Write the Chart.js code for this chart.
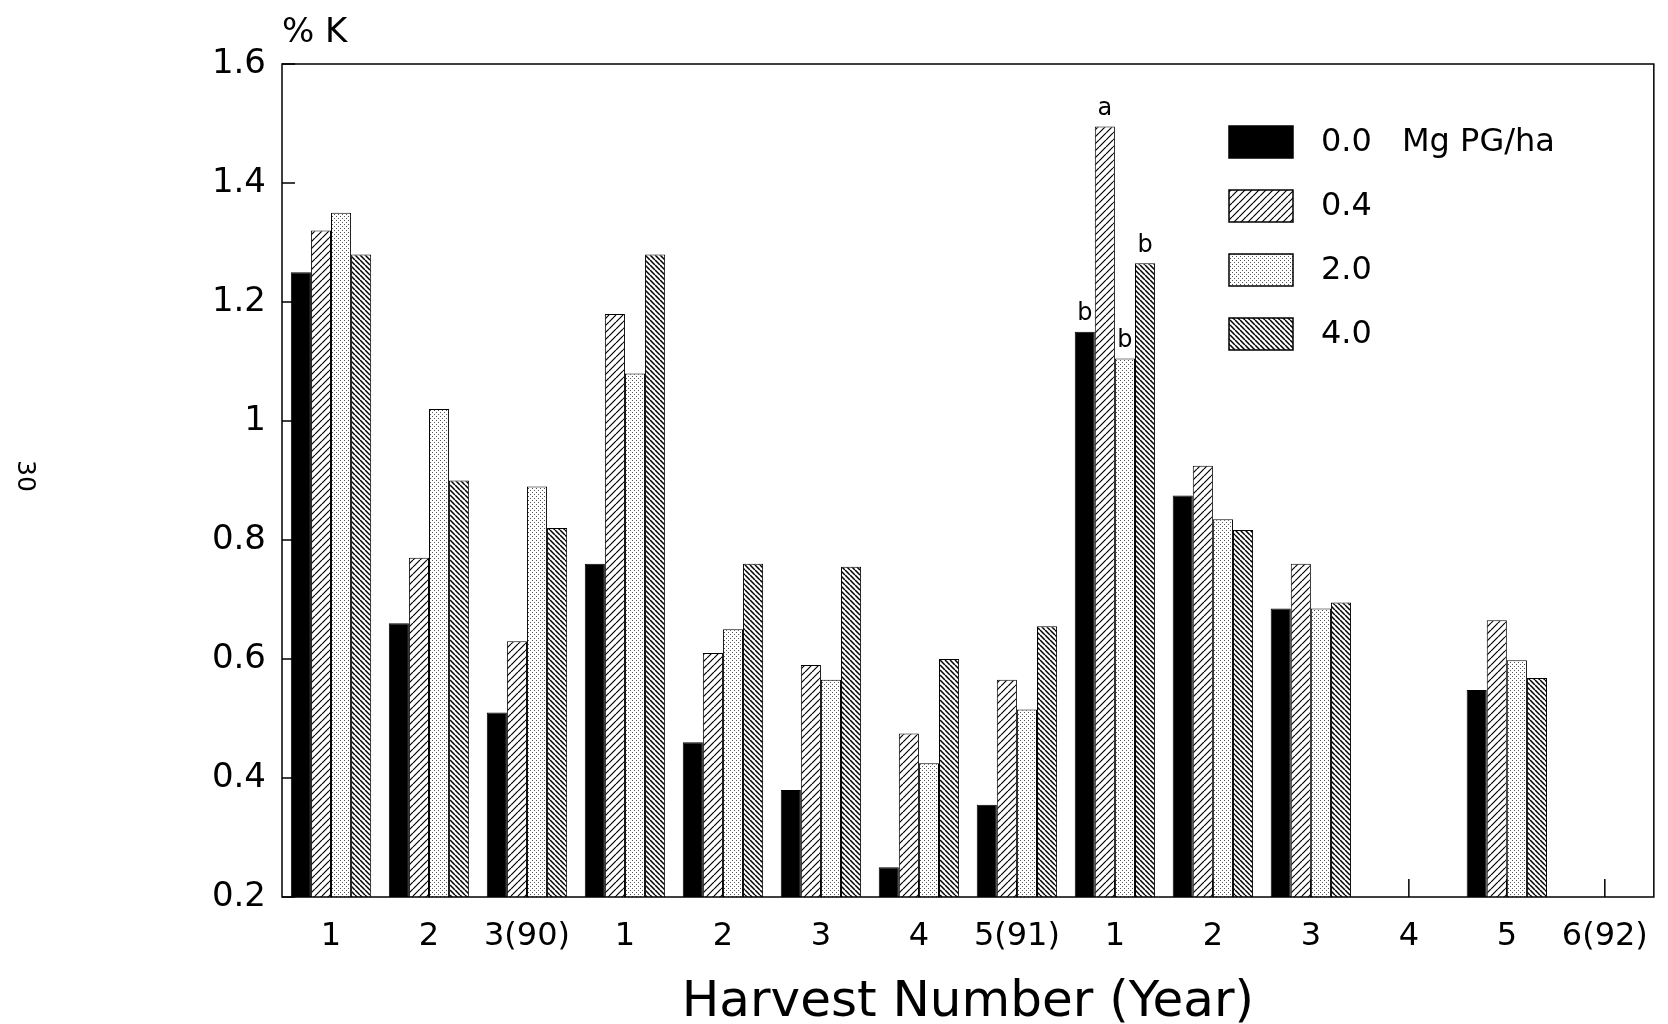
<!DOCTYPE html>
<html>
<head>
<meta charset="utf-8">
<script src="https://cdn.jsdelivr.net/npm/chart.js@4/dist/chart.umd.min.js"></script>
<style>
  html, body { margin: 0; padding: 0; background: #fff; }
  #wrap { width: 1668px; height: 1024px; }
</style>
</head>
<body>
<div id="wrap"><canvas id="myChart"></canvas></div>
<script>
// harvest labels along the x axis (three years of cuts)
var harvests = ['1', '2', '3(90)', '1', '2', '3', '4', '5(91)', '1', '2', '3', '4', '5', '6(92)'];
var rates = ['0.0', '0.4', '2.0', '4.0'];
var rateUnit = 'Mg PG/ha';

// % K per harvest, one array per phosphogypsum rate (null = no bar)
var k00 = [1.25, 0.66, 0.51, 0.76, 0.46, 0.38, 0.25, 0.355, 1.15, 0.875, 0.685, null, 0.548, null];
var k04 = [1.32, 0.77, 0.63, 1.18, 0.61, 0.59, 0.475, 0.565, 1.495, 0.925, 0.76, null, 0.665, null];
var k20 = [1.35, 1.02, 0.89, 1.08, 0.65, 0.565, 0.425, 0.515, 1.105, 0.835, 0.685, null, 0.598, null];
var k40 = [1.28, 0.90, 0.82, 1.28, 0.76, 0.755, 0.60, 0.655, 1.265, 0.817, 0.695, null, 0.568, null];

var yTicks = [0.2, 0.4, 0.6, 0.8, 1, 1.2, 1.4, 1.6];

// significance letters over one harvest group
var letterGroup = 8;
var letters = ['b', 'a', 'b', 'b'];

var FONT = 'DejaVu Sans';

function makePattern(size, draw) {
  var c = document.createElement('canvas');
  c.width = size;
  c.height = size;
  var g = c.getContext('2d');
  g.fillStyle = '#fff';
  g.fillRect(0, 0, size, size);
  draw(g, size);
  return g.createPattern(c, 'repeat');
}

// "/" hatch, light
var fwdHatch = makePattern(7, function(g, s) {
  g.strokeStyle = '#000';
  g.lineWidth = 1.2;
  g.beginPath();
  [-s, 0, s].forEach(function(k) {
    g.moveTo(k, s);
    g.lineTo(k + s, 0);
  });
  g.stroke();
});

// fine stipple
var dots = makePattern(4, function(g, s) {
  g.fillStyle = '#555';
  g.fillRect(0, 0, 1, 1);
  g.fillRect(2, 2, 1, 1);
});

// "\" hatch, dense and dark
var backHatch = makePattern(5, function(g, s) {
  g.strokeStyle = '#000';
  g.lineWidth = 1.5;
  g.beginPath();
  [-s, 0, s].forEach(function(k) {
    g.moveTo(k, 0);
    g.lineTo(k + s, s);
  });
  g.stroke();
});

var fills = ['#000', fwdHatch, dots, backHatch];

var extras = {
  id: 'extras',
  beforeDatasetsDraw: function(chart) {
    var ctx = chart.ctx;
    var a = chart.chartArea;
    var xs = chart.scales.x;
    var ys = chart.scales.y;
    ctx.save();
    ctx.strokeStyle = '#000';
    ctx.lineWidth = 1.5;
    ctx.beginPath();
    // inward ticks
    harvests.forEach(function(h, i) {
      var x = xs.getPixelForValue(i);
      ctx.moveTo(x, a.bottom);
      ctx.lineTo(x, a.bottom - 18);
    });
    yTicks.forEach(function(v) {
      var y = ys.getPixelForValue(v);
      ctx.moveTo(a.left, y);
      ctx.lineTo(a.left + 13, y);
    });
    ctx.stroke();
    ctx.restore();
  },
  afterDatasetsDraw: function(chart) {
    var ctx = chart.ctx;
    var a = chart.chartArea;
    ctx.save();
    ctx.strokeStyle = '#000';
    ctx.lineWidth = 1.5;
    ctx.strokeRect(a.left, a.top, a.right - a.left, a.bottom - a.top);

    // letters above group bars
    ctx.fillStyle = '#000';
    ctx.font = '24px "' + FONT + '"';
    ctx.textAlign = 'center';
    ctx.textBaseline = 'bottom';
    letters.forEach(function(t, i) {
      var bar = chart.getDatasetMeta(i).data[letterGroup];
      ctx.fillText(t, bar.x, bar.y - 6);
    });

    // y unit
    ctx.textAlign = 'left';
    ctx.textBaseline = 'alphabetic';
    ctx.font = '34px "' + FONT + '"';
    ctx.fillText('% K', a.left, 42);

    // legend
    ctx.font = '32px "' + FONT + '"';
    ctx.textBaseline = 'middle';
    ctx.lineWidth = 1.5;
    chart.data.datasets.forEach(function(ds, i) {
      var bx = a.left + 947;
      var by = a.top + 62 + i * 64;
      ctx.fillStyle = ds.backgroundColor;
      ctx.fillRect(bx, by, 64, 32);
      ctx.strokeRect(bx, by, 64, 32);
      ctx.fillStyle = '#000';
      ctx.fillText(rates[i], bx + 92, by + 17);
      if (i === 0) ctx.fillText(rateUnit, bx + 173, by + 17);
    });

    // page number in the margin
    ctx.translate(24, 476);
    ctx.rotate(Math.PI / 2);
    ctx.font = '25px "' + FONT + '"';
    ctx.textAlign = 'center';
    ctx.fillText('30', 0, 0);
    ctx.restore();
  }
};

var ctx = document.getElementById('myChart').getContext('2d');
var chart = new Chart(ctx, {
  type: 'bar',
  data: {
    labels: harvests,
    datasets: [k00, k04, k20, k40].map(function(vals, i) {
      return {
        label: rates[i],
        data: vals,
        backgroundColor: fills[i],
        borderColor: '#000',
        borderWidth: 1,
        barPercentage: 1.0,
        categoryPercentage: 0.82
      };
    })
  },
  options: {
    responsive: true,
    maintainAspectRatio: false,
    animation: false,
    layout: { padding: { top: 64, right: 4, left: 0, bottom: 0 } },
    plugins: {
      legend: { display: false },
      tooltip: { enabled: false }
    },
    scales: {
      x: {
        grid: { display: false, drawTicks: false },
        border: { display: false },
        ticks: {
          color: '#000',
          font: { family: FONT, size: 32 },
          padding: 20,
          maxRotation: 0,
          autoSkip: false
        },
        title: {
          display: true,
          text: 'Harvest Number (Year)',
          color: '#000',
          font: { family: FONT, size: 50 },
          padding: { top: 0, bottom: -9 }
        },
        afterFit: function(s) { s.height = 127; }
      },
      y: {
        min: 0.2,
        max: 1.6,
        afterBuildTicks: function(s) {
          s.ticks = yTicks.map(function(v) { return { value: v }; });
        },
        grid: { display: false, drawTicks: false },
        border: { display: false },
        ticks: {
          color: '#000',
          font: { family: FONT, size: 34 },
          padding: 16,
          callback: function(v) { return String(Math.round(v * 10) / 10); }
        },
        afterFit: function(s) { s.width = 282; }
      }
    }
  },
  plugins: [extras]
});
</script>
</body>
</html>
